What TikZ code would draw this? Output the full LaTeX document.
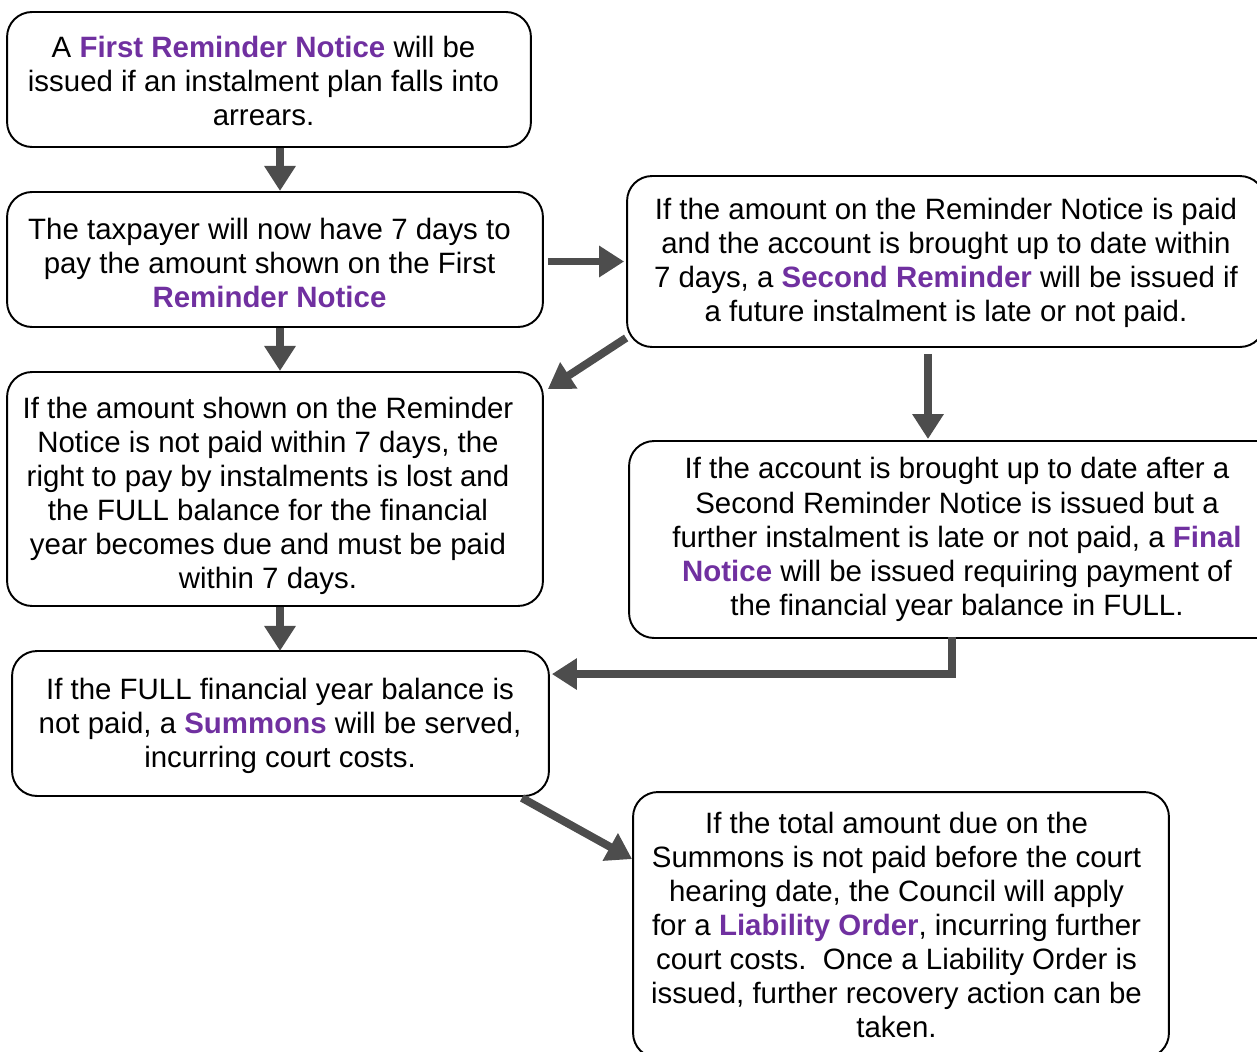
\documentclass[tikz,border=0pt]{standalone}
\usepackage{fontspec}
\setmainfont{Liberation Sans}
\usetikzlibrary{arrows.meta,calc}
\definecolor{notepurple}{HTML}{7030A0}
\definecolor{arrowgrey}{HTML}{4D4D4D}
\newcommand{\hl}[1]{\textbf{\color{notepurple}#1}}
\tikzset{
  stepbox/.style={draw, line width=1.1pt, rounded corners=0.5cm, inner sep=0pt},
  steptext/.style={align=center, inner sep=0pt, font=\fontsize{16.75}{19.4}\selectfont},
  flow/.style={arrowgrey, line width=4.5pt, -{Triangle[length=0.5cm,width=0.6cm]}}
}
\begin{document}
\begin{tikzpicture}[x=0.02cm,y=-0.02cm]
\useasboundingbox (0,0) rectangle (1257,1051);

\node[stepbox, minimum width=10.48cm, minimum height=2.7cm] (first) at (269,79.5) {};
\node[steptext] (first-txt) at ($(first)+(-5.5,1.5)$)
  {A \hl{First Reminder Notice} will be\\issued if an instalment plan falls into\\arrears.};
\node[stepbox, minimum width=10.72cm, minimum height=2.7cm] (sevendays) at (275,259.5) {};
\node[steptext] (sevendays-txt) at ($(sevendays)+(-5.5,3.5)$)
  {The taxpayer will now have 7 days to\\pay the amount shown on the First\\\hl{Reminder Notice}};
\node[stepbox, minimum width=12.76cm, minimum height=3.42cm] (second) at (946,261.5) {};
\node[steptext] (second-txt) at ($(second)+(0,1.5)$)
  {If the amount on the Reminder Notice is paid\\and the account is brought up to date within\\7 days, a \hl{Second Reminder} will be issued if\\a future instalment is late or not paid.};
\node[stepbox, minimum width=10.72cm, minimum height=4.68cm] (lost) at (275,489) {};
\node[steptext] (lost-txt) at ($(lost)+(-7,7)$)
  {If the amount shown on the Reminder\\Notice is not paid within 7 days, the\\right to pay by instalments is lost and\\the FULL balance for the financial\\year becomes due and must be paid\\within 7 days.};
\node[stepbox, minimum width=13.12cm, minimum height=3.94cm] (final) at (957,539.5) {};
\node[steptext] (final-txt) at (final)
  {If the account is brought up to date after a\\Second Reminder Notice is issued but a\\further instalment is late or not paid, a \hl{Final}\\\hl{Notice} will be issued requiring payment of\\the financial year balance in FULL.};
\node[stepbox, minimum width=10.74cm, minimum height=2.9cm] (summons) at (280.5,723.5) {};
\node[steptext] (summons-txt) at ($(summons)+(-0.5,2.5)$)
  {If the FULL financial year balance is\\not paid, a \hl{Summons} will be served,\\incurring court costs.};
\node[stepbox, minimum width=10.72cm, minimum height=5.32cm] (liability) at (901,925) {};
\node[steptext] (liability-txt) at ($(liability)+(-4.5,0)$)
  {If the total amount due on the\\Summons is not paid before the court\\hearing date, the Council will apply\\for a \hl{Liability Order}, incurring further\\court costs.\ \ Once a Liability Order is\\issued, further recovery action can be\\taken.};

\draw[flow] ($(first.south)+(11,0)$) -- ($(first.south)+(11,43)$);
\draw[flow] ($(sevendays.east)+(4,2)$) -- ($(second.west)+(-2,0)$);
\draw[flow] ($(sevendays.south)+(5,0)$) -- ($(sevendays.south)+(5,43)$);
\draw[flow] ($(second.south west)+(0,-10)$) -- ($(lost.north east)+(4,18)$);
\draw[flow] ($(second.south)+(-18,6)$) -- ($(final.north)+(-29,-1)$);
\draw[flow] ($(lost.south)+(5,0)$) -- ($(lost.south)+(5,44)$);
\draw[flow] ($(final.south)+(-5,-2)$) |- ($(summons.north east)+(2,24)$);
\draw[flow] ($(summons.south east)+(-28,1)$) -- ($(liability.north west)+(0,68)$);
\end{tikzpicture}
\end{document}
